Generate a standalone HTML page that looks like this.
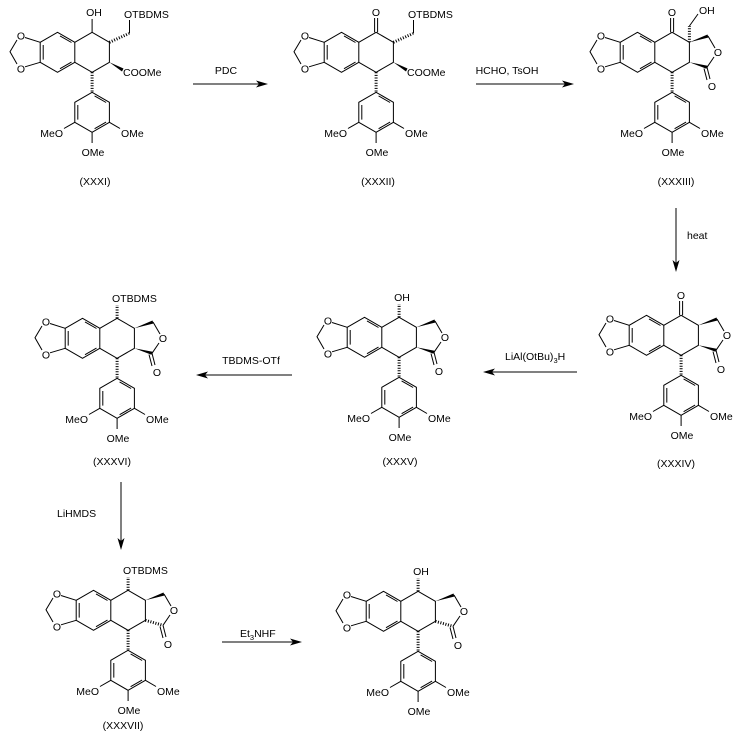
<!DOCTYPE html>
<html><head><meta charset="utf-8"><style>
html,body{margin:0;padding:0;background:#fff;}
svg{display:block;}
text{font-family:"Liberation Sans",Arial,sans-serif;font-size:10.5px;fill:#000;}
.b{stroke:#000;stroke-width:1;fill:none;}
.h{stroke:#000;stroke-width:3;stroke-dasharray:1,1.6;fill:none;}
</style></head><body>
<svg width="739" height="736" viewBox="0 0 739 736" xmlns="http://www.w3.org/2000/svg">
<defs>
<g id="core">
  <polygon class="b" points="57.5,32.3 74.8,42.3 74.8,62.3 57.5,72.3 40.2,62.3 40.2,42.3"/>
  <line class="b" x1="60" y1="35.9" x2="71.5" y2="42.5"/>
  <line class="b" x1="43.2" y1="45" x2="43.2" y2="59.6"/>
  <line class="b" x1="71.5" y1="62.1" x2="60" y2="68.7"/>
  <polyline class="b" points="74.8,42.3 92.1,32.3 109.4,42.3 109.4,62.3 92.1,72.3 74.8,62.3"/>
  <line class="b" x1="40.2" y1="42.3" x2="25" y2="37.5"/>
  <polyline class="b" points="17,40 10,51.7 17,64"/>
  <line class="b" x1="25" y1="66.8" x2="40.2" y2="62.3"/>
  <line class="h" x1="92.1" y1="72.3" x2="92.1" y2="92.3"/>
  <g transform="translate(34.6,60)">
    <polygon class="b" points="57.5,32.3 74.8,42.3 74.8,62.3 57.5,72.3 40.2,62.3 40.2,42.3"/>
    <line class="b" x1="60" y1="35.9" x2="71.5" y2="42.5"/>
    <line class="b" x1="43.2" y1="45" x2="43.2" y2="59.6"/>
    <line class="b" x1="71.5" y1="62.1" x2="60" y2="68.7"/>
  </g>
  <line class="b" x1="74.8" y1="122.3" x2="64" y2="128.5"/>
  <line class="b" x1="109.4" y1="122.3" x2="120" y2="128.5"/>
  <line class="b" x1="92.1" y1="132.3" x2="92.1" y2="143"/>
</g>
<g id="lacbase">
  <polygon points="109.4,42.3 127.5,34.5 128.5,37.5" fill="#000"/>
  <line class="b" x1="128" y1="36" x2="135" y2="48"/>
  <line class="b" x1="134" y1="57" x2="127" y2="67.3"/>
  <line class="b" x1="127" y1="67.3" x2="130" y2="79"/>
  <line class="b" x1="124" y1="68.5" x2="127" y2="80"/>
</g>
<g id="lacbold">
  <use href="#lacbase"/>
  <polygon points="109.4,62.3 127.5,65.8 126.5,68.8" fill="#000"/>
</g>
<g id="lachash">
  <use href="#lacbase"/>
  <line class="h" x1="109.4" y1="62.3" x2="127" y2="67.3"/>
</g>
</defs>

<!-- XXXI -->
<g transform="translate(0,0)">
  <use href="#core"/>
  <line class="b" x1="92.1" y1="32.3" x2="92.1" y2="19"/>
  <text x="94" y="16" text-anchor="middle">OH</text>
  <line class="h" x1="109.4" y1="42.3" x2="129" y2="33.5"/>
  <line class="b" x1="129.5" y1="33.5" x2="129.5" y2="20"/>
  <text x="124" y="18">OTBDMS</text>
  <polygon points="109.4,62.3 123.5,68.5 122,71.5" fill="#000"/>
  <text x="123" y="76">COOMe</text>
</g>
<!-- XXXII -->
<g transform="translate(284,0)">
  <use href="#core"/>
  <line class="b" x1="90.6" y1="32.3" x2="90.6" y2="18"/>
  <line class="b" x1="93.6" y1="32.3" x2="93.6" y2="18"/>
  <text x="92" y="16" text-anchor="middle">O</text>
  <line class="h" x1="109.4" y1="42.3" x2="129" y2="33.5"/>
  <line class="b" x1="129.5" y1="33.5" x2="129.5" y2="20"/>
  <text x="124" y="18">OTBDMS</text>
  <polygon points="109.4,62.3 123.5,68.5 122,71.5" fill="#000"/>
  <text x="123" y="76">COOMe</text>
</g>
<!-- XXXIII -->
<g transform="translate(580,0)">
  <use href="#core"/>
  <use href="#lacbold"/>
  <line class="b" x1="90.6" y1="32.3" x2="90.6" y2="18"/>
  <line class="b" x1="93.6" y1="32.3" x2="93.6" y2="18"/>
  <text x="92" y="16" text-anchor="middle">O</text>
  <line class="h" x1="109.4" y1="42.3" x2="109.4" y2="26"/>
  <line class="b" x1="109.4" y1="26" x2="118" y2="14"/>
  <text x="119" y="14">OH</text>
</g>
<!-- XXXIV -->
<g transform="translate(589,283)">
  <use href="#core"/>
  <use href="#lacbold"/>
  <line class="b" x1="90.6" y1="32.3" x2="90.6" y2="18"/>
  <line class="b" x1="93.6" y1="32.3" x2="93.6" y2="18"/>
  <text x="92" y="16" text-anchor="middle">O</text>
</g>
<!-- XXXV -->
<g transform="translate(307,285)">
  <use href="#core"/>
  <use href="#lacbold"/>
  <line class="h" x1="92.1" y1="32.3" x2="92.1" y2="19"/>
  <text x="95" y="16" text-anchor="middle">OH</text>
</g>
<!-- XXXVI -->
<g transform="translate(25,286)">
  <use href="#core"/>
  <use href="#lacbold"/>
  <line class="h" x1="92.1" y1="32.3" x2="92.1" y2="19"/>
  <text x="87" y="16">OTBDMS</text>
</g>
<!-- XXXVII -->
<g transform="translate(36,558)">
  <use href="#core"/>
  <use href="#lachash"/>
  <line class="h" x1="92.1" y1="32.3" x2="92.1" y2="19"/>
  <text x="87" y="16">OTBDMS</text>
</g>
<!-- final -->
<g transform="translate(326,559)">
  <use href="#core"/>
  <use href="#lachash"/>
  <line class="h" x1="92.1" y1="32.3" x2="92.1" y2="19"/>
  <text x="95" y="16" text-anchor="middle">OH</text>
</g>

<!-- common labels for each molecule -->
<g>
  <!-- offsets: (0,0) (284,0) (580,0) (589,283) (307,285) (25,286) (36,558) (326,559) -->
  <text x="21" y="39.5" text-anchor="middle">O</text><text x="21" y="72.5" text-anchor="middle">O</text>
  <text x="63" y="137" text-anchor="end">MeO</text><text x="121" y="137">OMe</text><text x="93" y="156" text-anchor="middle">OMe</text>

  <text x="305" y="39.5" text-anchor="middle">O</text><text x="305" y="72.5" text-anchor="middle">O</text>
  <text x="347" y="137" text-anchor="end">MeO</text><text x="405" y="137">OMe</text><text x="377" y="156" text-anchor="middle">OMe</text>

  <text x="601" y="39.5" text-anchor="middle">O</text><text x="601" y="72.5" text-anchor="middle">O</text>
  <text x="643" y="137" text-anchor="end">MeO</text><text x="701" y="137">OMe</text><text x="673" y="156" text-anchor="middle">OMe</text>
  <text x="718" y="56" text-anchor="middle">O</text><text x="712" y="90" text-anchor="middle">O</text>

  <text x="610" y="322.5" text-anchor="middle">O</text><text x="610" y="355.5" text-anchor="middle">O</text>
  <text x="652" y="420" text-anchor="end">MeO</text><text x="710" y="420">OMe</text><text x="682" y="439" text-anchor="middle">OMe</text>
  <text x="727" y="339" text-anchor="middle">O</text><text x="721" y="373" text-anchor="middle">O</text>

  <text x="328" y="324.5" text-anchor="middle">O</text><text x="328" y="357.5" text-anchor="middle">O</text>
  <text x="370" y="422" text-anchor="end">MeO</text><text x="428" y="422">OMe</text><text x="400" y="441" text-anchor="middle">OMe</text>
  <text x="445" y="341" text-anchor="middle">O</text><text x="439" y="375" text-anchor="middle">O</text>

  <text x="46" y="325.5" text-anchor="middle">O</text><text x="46" y="358.5" text-anchor="middle">O</text>
  <text x="88" y="423" text-anchor="end">MeO</text><text x="146" y="423">OMe</text><text x="118" y="442" text-anchor="middle">OMe</text>
  <text x="163" y="342" text-anchor="middle">O</text><text x="157" y="376" text-anchor="middle">O</text>

  <text x="57" y="597.5" text-anchor="middle">O</text><text x="57" y="630.5" text-anchor="middle">O</text>
  <text x="99" y="695" text-anchor="end">MeO</text><text x="157" y="695">OMe</text><text x="129" y="714" text-anchor="middle">OMe</text>
  <text x="174" y="614" text-anchor="middle">O</text><text x="168" y="648" text-anchor="middle">O</text>

  <text x="347" y="598.5" text-anchor="middle">O</text><text x="347" y="631.5" text-anchor="middle">O</text>
  <text x="389" y="696" text-anchor="end">MeO</text><text x="447" y="696">OMe</text><text x="419" y="715" text-anchor="middle">OMe</text>
  <text x="464" y="615" text-anchor="middle">O</text><text x="458" y="649" text-anchor="middle">O</text>
</g>

<!-- compound labels -->
<text x="95" y="185" text-anchor="middle">(XXXI)</text>
<text x="378" y="185" text-anchor="middle">(XXXII)</text>
<text x="676" y="185" text-anchor="middle">(XXXIII)</text>
<text x="676" y="467" text-anchor="middle">(XXXIV)</text>
<text x="400" y="465" text-anchor="middle">(XXXV)</text>
<text x="112" y="465" text-anchor="middle">(XXXVI)</text>
<text x="123" y="729" text-anchor="middle">(XXXVII)</text>

<!-- arrows -->
<g>
  <line class="b" x1="193" y1="84" x2="262" y2="84"/>
  <polygon points="268,84 256,80.5 259,84 256,87.5" fill="#000"/>
  <text x="226" y="74" text-anchor="middle">PDC</text>

  <line class="b" x1="476" y1="84" x2="568" y2="84"/>
  <polygon points="574,84 562,80.5 565,84 562,87.5" fill="#000"/>
  <text x="507" y="74" text-anchor="middle">HCHO, TsOH</text>

  <line class="b" x1="676" y1="208" x2="676" y2="266"/>
  <polygon points="676,272 672.5,260 676,263 679.5,260" fill="#000"/>
  <text x="687" y="239">heat</text>

  <line class="b" x1="577" y1="372" x2="489" y2="372"/>
  <polygon points="483,372 495,368.5 492,372 495,375.5" fill="#000"/>
  <text x="505" y="360">LiAl(OtBu)<tspan font-size="7.5" dy="3">3</tspan><tspan dy="-3">H</tspan></text>

  <line class="b" x1="292" y1="375" x2="202" y2="375"/>
  <polygon points="196,375 208,371.5 205,375 208,378.5" fill="#000"/>
  <text x="251" y="364" text-anchor="middle">TBDMS-OTf</text>

  <line class="b" x1="121" y1="482" x2="121" y2="544"/>
  <polygon points="121,550 117.5,538 121,541 124.5,538" fill="#000"/>
  <text x="57" y="517">LiHMDS</text>

  <line class="b" x1="222" y1="642" x2="296" y2="642"/>
  <polygon points="302,642 290,638.5 293,642 290,645.5" fill="#000"/>
  <text x="240" y="637">Et<tspan font-size="7.5" dy="3">3</tspan><tspan dy="-3">NHF</tspan></text>
</g>
</svg>
</body></html>
